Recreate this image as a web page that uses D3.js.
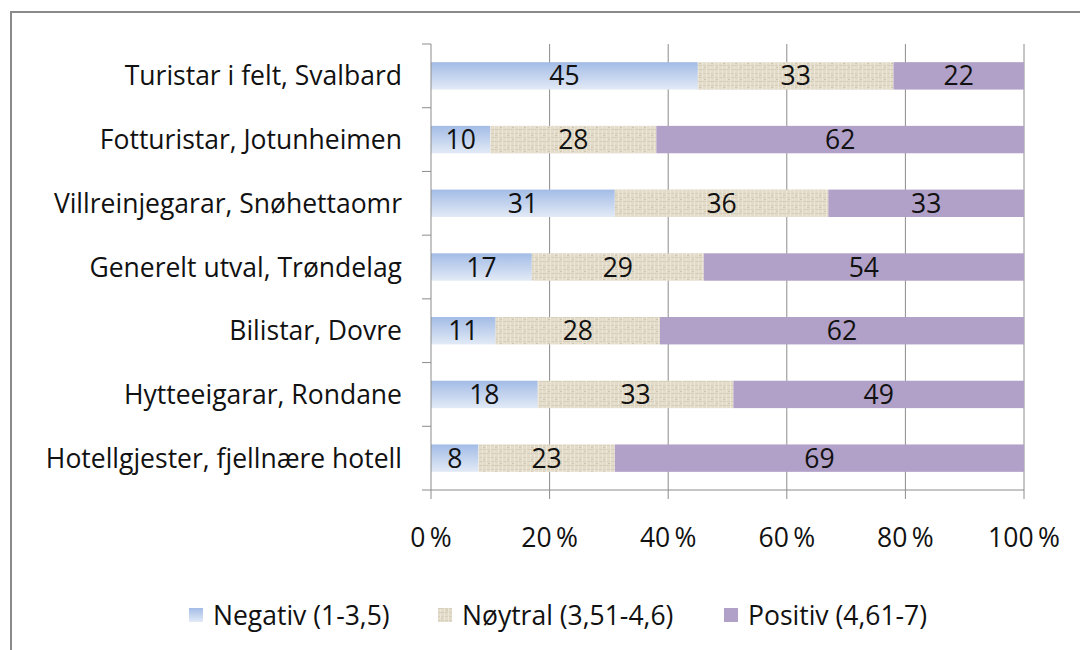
<!DOCTYPE html>
<html>
<head>
<meta charset="utf-8">
<script src="https://cdn.jsdelivr.net/npm/d3@7"></script>
<style>
  body { margin: 0; background: #fff; }
  text { font-family: "Open Sans", sans-serif; fill: #111; }
</style>
</head>
<body>
<div id="viz"></div>
<script>
var categories = [
  'Turistar i felt, Svalbard',
  'Fotturistar, Jotunheimen',
  'Villreinjegarar, Snøhettaomr',
  'Generelt utval, Trøndelag',
  'Bilistar, Dovre',
  'Hytteeigarar, Rondane',
  'Hotellgjester, fjellnære hotell'
];
var negativ = [45, 10, 31, 17, 11, 18, 8];
var noytral = [33, 28, 36, 29, 28, 33, 23];
var positiv = [22, 62, 33, 54, 62, 49, 69];
var seriesNames = ['Negativ (1-3,5)', 'Nøytral (3,51-4,6)', 'Positiv (4,61-7)'];
var xTicks = [0, 20, 40, 60, 80, 100];

var width = 1080,
    height = 650,
    plotLeft = 431,
    plotRight = 1024,
    plotTop = 44,
    plotBottom = 490,
    fontSize = '26.5px';

var svg = d3.select('#viz').append('svg')
    .attr('width', width)
    .attr('height', height);

var defs = svg.append('defs');
var grad = defs.append('linearGradient')
    .attr('id', 'negGrad')
    .attr('x1', 0).attr('y1', 0).attr('x2', 0).attr('y2', 1);
grad.append('stop').attr('offset', '0%').attr('stop-color', '#a3bce6');
grad.append('stop').attr('offset', '100%').attr('stop-color', '#e2eaf6');

// canvas-like texture for the neutral series
var pat = defs.append('pattern')
    .attr('id', 'neuTex')
    .attr('patternUnits', 'userSpaceOnUse')
    .attr('width', 12).attr('height', 12);
pat.append('rect').attr('width', 12).attr('height', 12).attr('fill', '#e4dccb');
[1, 5, 9].forEach(function(p) {
  pat.append('rect').attr('x', 0).attr('y', p).attr('width', 12).attr('height', 1).attr('fill', '#d8cfba');
  pat.append('rect').attr('x', p + 1).attr('y', 0).attr('width', 1).attr('height', 12).attr('fill', '#ece6d9');
});
pat.append('rect').attr('x', 3).attr('y', 3).attr('width', 2).attr('height', 1).attr('fill', '#cfc4ad');
pat.append('rect').attr('x', 8).attr('y', 7).attr('width', 2).attr('height', 1).attr('fill', '#cfc4ad');

var fills = ['url(#negGrad)', 'url(#neuTex)', '#b1a0c7'];

// outer frame
svg.append('path')
    .attr('d', 'M11,650 V12 H1080')
    .attr('fill', 'none')
    .attr('stroke', '#8a8a8a')
    .attr('stroke-width', 2);

var xScale = d3.scaleLinear().domain([0, 100]).range([plotLeft, plotRight]);
var yScale = d3.scaleBand().domain(categories).range([plotTop, plotBottom]).paddingInner(0.57).paddingOuter(0.285);
var yOuter = d3.scaleBand().domain(categories).range([plotTop, plotBottom]);

// gridlines
svg.append('g').selectAll('line').data(xTicks.slice(1))
    .enter().append('line')
    .attr('x1', function(d) { return xScale(d); })
    .attr('x2', function(d) { return xScale(d); })
    .attr('y1', plotTop).attr('y2', plotBottom)
    .attr('stroke', '#8c8c8c').attr('stroke-width', 1);

// 100% stacked bars
var seg = [];
categories.forEach(function(c, i) {
  var vals = [negativ[i], noytral[i], positiv[i]];
  var total = d3.sum(vals), acc = 0;
  vals.forEach(function(v, k) {
    seg.push({ cat: c, k: k, x0: acc / total * 100, x1: (acc + v) / total * 100, v: v });
    acc += v;
  });
});

svg.append('g').selectAll('rect').data(seg)
    .enter().append('rect')
    .attr('x', function(d) { return xScale(d.x0); })
    .attr('width', function(d) { return xScale(d.x1) - xScale(d.x0); })
    .attr('y', function(d) { return yScale(d.cat); })
    .attr('height', yScale.bandwidth())
    .attr('fill', function(d) { return fills[d.k]; });

svg.append('g').selectAll('text').data(seg)
    .enter().append('text')
    .attr('x', function(d) { return (xScale(d.x0) + xScale(d.x1)) / 2; })
    .attr('y', function(d) { return yScale(d.cat) + yScale.bandwidth() / 2; })
    .attr('dy', '0.36em')
    .attr('text-anchor', 'middle')
    .style('font-size', fontSize)
    .text(function(d) { return d.v; });

// y axis
var yAxis = svg.append('g');
yAxis.append('line')
    .attr('x1', plotLeft).attr('x2', plotLeft).attr('y1', plotTop).attr('y2', plotBottom)
    .attr('stroke', '#8c8c8c');
yAxis.selectAll('.yt').data(categories.concat(['end']))
    .enter().append('line')
    .attr('x1', plotLeft - 9).attr('x2', plotLeft)
    .attr('y1', function(d, i) { return i < categories.length ? yOuter(d) : plotBottom; })
    .attr('y2', function(d, i) { return i < categories.length ? yOuter(d) : plotBottom; })
    .attr('stroke', '#8c8c8c');
yAxis.selectAll('text').data(categories)
    .enter().append('text')
    .attr('x', 402)
    .attr('y', function(d) { return yOuter(d) + yOuter.bandwidth() / 2; })
    .attr('dy', '0.36em')
    .attr('text-anchor', 'end')
    .style('font-size', fontSize)
    .text(function(d) { return d; });

// x axis
var xAxis = svg.append('g');
xAxis.append('line')
    .attr('x1', plotLeft).attr('x2', plotRight).attr('y1', plotBottom).attr('y2', plotBottom)
    .attr('stroke', '#8c8c8c');
xAxis.selectAll('.xt').data(xTicks)
    .enter().append('line')
    .attr('x1', function(d) { return xScale(d); })
    .attr('x2', function(d) { return xScale(d); })
    .attr('y1', plotBottom).attr('y2', plotBottom + 9)
    .attr('stroke', '#8c8c8c');
xAxis.selectAll('text').data(xTicks)
    .enter().append('text')
    .attr('x', function(d) { return xScale(d); })
    .attr('y', 537)
    .attr('dy', '0.36em')
    .attr('text-anchor', 'middle')
    .style('font-size', fontSize)
    .text(function(d) { return d + '\u2009%'; });

// legend
var legendX = [189, 438, 724];
var lg = svg.append('g').selectAll('g').data(seriesNames)
    .enter().append('g')
    .attr('transform', function(d, i) { return 'translate(' + legendX[i] + ',615)'; });
lg.append('rect')
    .attr('x', 0).attr('y', -7).attr('width', 14).attr('height', 14)
    .attr('fill', function(d, i) { return fills[i]; });
lg.append('text')
    .attr('x', 24).attr('y', 0).attr('dy', '0.36em')
    .style('font-size', fontSize)
    .text(function(d) { return d; });
</script>
</body>
</html>
